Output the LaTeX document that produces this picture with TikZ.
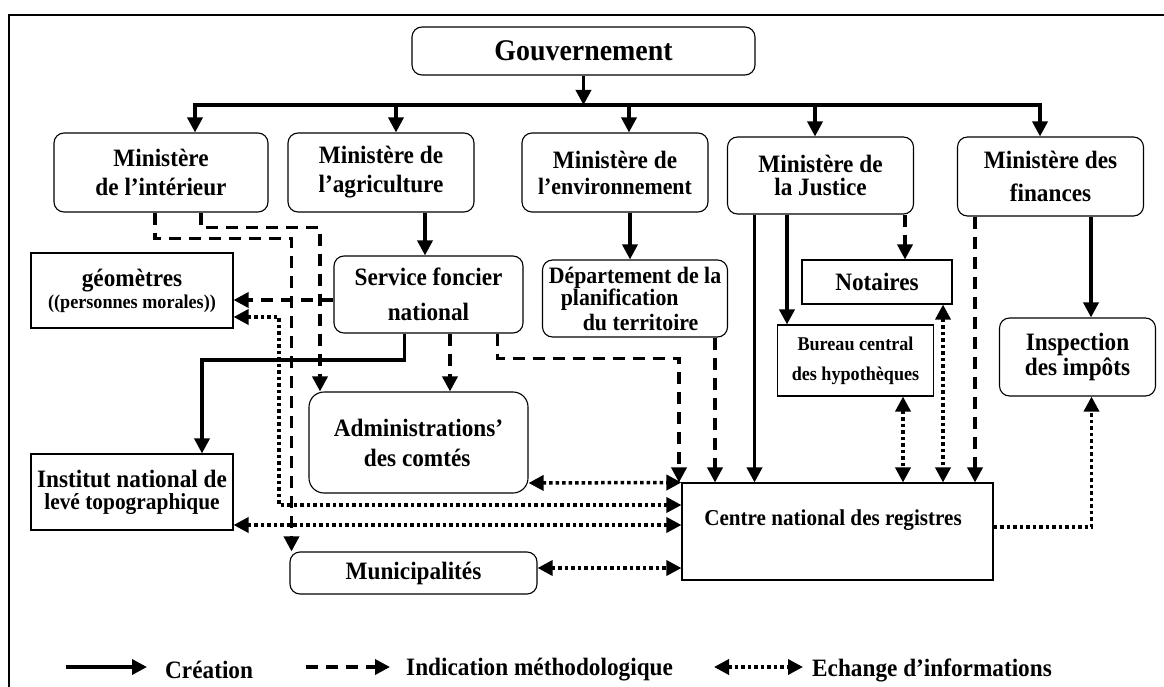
\documentclass[tikz,border=0pt]{standalone}
\usepackage{fontspec}
\setmainfont{Liberation Serif}[FakeStretch=0.93]
\usetikzlibrary{arrows.meta}

\begin{document}
\begin{tikzpicture}[x=1pt,y=-1pt,
        font=\fontsize{25}{27}\selectfont\bfseries,
        rbox/.style={draw, line width=1.1pt, rounded corners=10pt, align=center, inner sep=2pt},
        sbox/.style={draw, line width=1.1pt, align=center, inner sep=2pt},
        cre/.style={line width=3.5pt, -{Triangle[length=15pt,width=15pt]}},
        ind/.style={line width=3.5pt, dash pattern=on 12pt off 8pt, -{Triangle[length=15pt,width=15pt]}},
        ech/.style={line width=3.5pt, dash pattern=on 3.5pt off 3pt, {Triangle[length=15pt,width=15pt]}-{Triangle[length=15pt,width=15pt]}},
        echone/.style={line width=3.5pt, dash pattern=on 3.5pt off 3pt, -{Triangle[length=15pt,width=15pt]}}]
        \useasboundingbox (0,0) rectangle (1164,687);
        \draw[line width=2pt] (9,687) -- (9,15) -- (1164,15);
        %\label{org}
        \node[rbox, minimum width=343pt, minimum height=48pt, font=\fontsize{30}{32}\selectfont\bfseries] (gov) at (583.5,51) {Gouvernement};
        \node[rbox, minimum width=214pt, minimum height=79pt] (int) at (161,172.5) {Ministère\\[2pt]de l’intérieur};
        \node[rbox, minimum width=186pt, minimum height=79pt] (agr) at (381,172.5) {Ministère de\\[2pt]l’agriculture};
        \node[rbox, minimum width=186pt, minimum height=79pt] (env) at (615,172.5) {Ministère de\\[-1pt]{\fontsize{23.5}{26}\selectfont l’environnement}};
        \node[rbox, minimum width=186pt, minimum height=77pt] (jus) at (820.5,175.5) {Ministère de\\[-4pt]la Justice};
        \node[rbox, minimum width=186pt, minimum height=79pt] (fin) at (1050.5,176.5) {Ministère des\\[6pt]finances};
        \node[sbox, minimum width=202pt, minimum height=75pt] (geo) at (132,290.5) {géomètres\\[-5pt]{\fontsize{19.5}{20}\selectfont((personnes morales))}};
        \node[rbox, minimum width=189pt, minimum height=77pt] (sf) at (428.5,294.5) {Service foncier\\[8pt]national};
        \node[rbox, minimum width=185pt, minimum height=77pt, align=left, font=\fontsize{23.5}{25}\selectfont\bfseries] (dep) at (635,298.5) {Département de la\\[-3pt]\hspace*{12pt}planification\\\hspace*{34pt}du territoire};
        \node[sbox, minimum width=150pt, minimum height=44pt] (not) at (877,282) {Notaires};
        \node[sbox, minimum width=156pt, minimum height=71pt, font=\fontsize{19.5}{30}\selectfont\bfseries] (bur) at (855.5,360.5) {Bureau central\\des hypothèques};
        \node[rbox, minimum width=156pt, minimum height=78pt] (ins) at (1077.5,357) {Inspection\\[-2pt]des impôts};
        \node[sbox, minimum width=202pt, minimum height=76pt] (inst) at (132,492) {Institut national de\\[-5pt]{\fontsize{23}{24}\selectfont levé topographique}};
        \node[rbox, rounded corners=15pt, minimum width=219pt, minimum height=101pt, align=left] (adm) at (418.5,442.5) {Administrations’\\[3pt]\hspace*{30pt}des comtés};
        \node[rbox, minimum width=247pt, minimum height=42pt] (mun) at (413.5,573) {Municipalités};
        \node[sbox, minimum width=311pt, minimum height=97pt] (cen) at (837.5,531.5) {};
        \node[font=\fontsize{22.7}{24}\selectfont\bfseries] (centxt) at (833,520) {Centre national des registres};

        % creation
        \coordinate (bl) at (195,105);
        \coordinate (b2) at (396,105);
        \coordinate (b3) at (629,105);
        \coordinate (b4) at (815,105);
        \coordinate (br) at (1040,105);
        \draw[cre] (gov.south) -- (gov.south |- bl);
        \draw[line width=3.5pt, line cap=rect] (bl) -- (br);
        \draw[cre] (bl) -- (bl |- int.north);
        \draw[cre] (b2) -- (b2 |- agr.north);
        \draw[cre] (b3) -- (b3 |- env.north);
        \draw[cre] (b4) -- (b4 |- jus.north);
        \draw[cre] (br) -- (br |- fin.north);
        \draw[cre] ([xshift=44pt]agr.south) -- ([xshift=-3.5pt]sf.north);
        \draw[cre] ([xshift=15pt]env.south) -- ([xshift=-5pt]dep.north);
        \coordinate (k1) at (202,360);
        \draw[cre] ([xshift=-24pt]sf.south) |- (k1) -- (k1 |- inst.north);
        \draw[cre] ([xshift=-66pt]jus.south) -- ([xshift=-83pt]cen.north);
        \draw[cre] ([xshift=-33.5pt]jus.south) -- ([xshift=-68.5pt]bur.north);
        \draw[cre] ([xshift=40.5pt]fin.south) -- ([xshift=13.5pt]ins.north);

        % indication
        \draw[ind] ([xshift=-6pt]int.south) -- ++(0,26) -| ([xshift=-122pt]mun.north);
        \draw[ind] ([xshift=40pt]int.south) -- ++(0,15) -| ([xshift=-98.5pt]adm.north);
        \draw[ind] ([yshift=-5.5pt]sf.west) -- ([yshift=-9.5pt]geo.east);
        \draw[ind] ([xshift=21.5pt]sf.south) -- ([xshift=31.5pt]adm.north);
        \draw[ind] ([xshift=69pt]sf.south) -- ++(0,25) -| ([xshift=-158.5pt]cen.north);
        \draw[ind] ([xshift=80pt]dep.south) -- ([xshift=-122.5pt]cen.north);
        \draw[ind] ([xshift=84.5pt]jus.south) -- ([xshift=28pt]not.north);
        \draw[ind] ([xshift=-75.5pt]fin.south) -- ([xshift=137.5pt]cen.north);

        % echange
        \coordinate (d1) at (279,505);
        \draw[ech] ([yshift=-40.5pt]adm.east) -- (cen.north west);
        \draw[ech] ([yshift=-26.5pt]geo.east) -| (d1) -- ([yshift=26.5pt]cen.west);
        \draw[ech] ([yshift=-33pt]inst.east) -- ([yshift=6.5pt]cen.west);
        \draw[ech] ([yshift=5pt]mun.east) -- ([yshift=-36.5pt]cen.west);
        \draw[ech] ([xshift=47.5pt]bur.south) -- ([xshift=65.5pt]cen.north);
        \draw[ech] ([xshift=66pt]not.south) -- ([xshift=105.5pt]cen.north);
        \draw[echone] ([yshift=4.5pt]cen.east) -| ([xshift=14pt]ins.south);

        % legend
        \coordinate (l1) at (66,667);
        \coordinate (l2) at (147,667);
        \coordinate (l3) at (306,667);
        \coordinate (l4) at (390,667);
        \coordinate (l5) at (714,667);
        \coordinate (l6) at (803,667);
        \draw[cre] (l1) -- (l2);
        \draw[ind] (l3) -- (l4);
        \draw[ech] (l5) -- (l6);
        \node[anchor=west, inner sep=0pt] (lcre) at (165,670) {Création};
        \node[anchor=west, inner sep=0pt] (lind) at (406,670) {Indication méthodologique};
        \node[anchor=west, inner sep=0pt] (lech) at (812,670) {Echange d’informations};
\end{tikzpicture}
\end{document}
